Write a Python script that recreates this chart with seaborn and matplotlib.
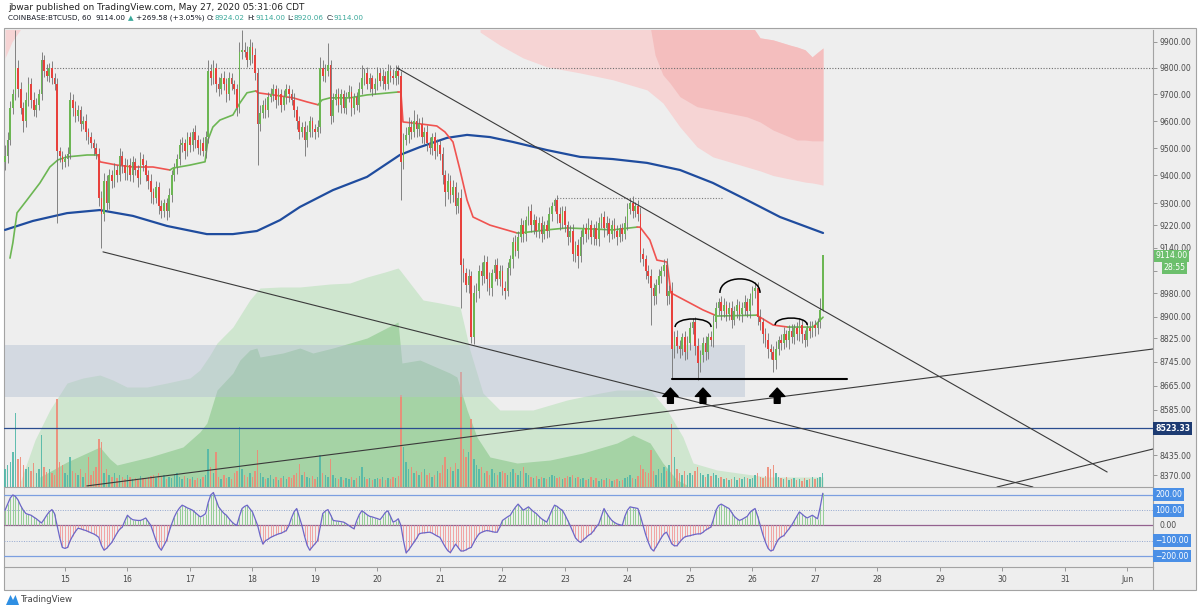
import numpy as np
import matplotlib
matplotlib.use("Agg")
import matplotlib.pyplot as plt
import seaborn as sns
from matplotlib.patches import Rectangle, Polygon, PathPatch
from matplotlib.path import Path
from matplotlib.lines import Line2D
from matplotlib.ticker import NullLocator

# ---------------------------------------------------------------- data
# hourly BTCUSD candles, first candle = May 14 01:00 (t = hours since May 14 00:00)
FIRST_OPEN = 9450
CLOSE = (
    [9470, 9530, 9650, 9700, 9800, 9720, 9650, 9600, 9680, 9740, 9680, 9640, 9660, 9700, 9830, 9790, 9770, 9800, 9760, 9740, 9490, 9470, 9450]
    + [9460, 9480, 9680, 9650, 9620, 9640, 9590, 9600, 9560, 9540, 9520, 9500, 9480, 9320, 9260, 9380, 9300, 9400, 9380, 9420, 9400, 9470, 9440, 9410]
    + [9440, 9400, 9450, 9420, 9390, 9460, 9440, 9400, 9380, 9340, 9320, 9360, 9290, 9270, 9300, 9270, 9330, 9400, 9430, 9460, 9510, 9520, 9490, 9540]
    + [9510, 9560, 9530, 9500, 9520, 9490, 9540, 9790, 9760, 9800, 9740, 9720, 9760, 9740, 9700, 9760, 9740, 9720, 9650, 9860, 9870, 9860, 9830, 9880]
    + [9850, 9780, 9590, 9630, 9660, 9640, 9690, 9700, 9720, 9680, 9700, 9660, 9690, 9720, 9700, 9680, 9640, 9600, 9560, 9580, 9530, 9560, 9600, 9570]
    + [9560, 9580, 9800, 9770, 9790, 9810, 9620, 9680, 9700, 9660, 9700, 9650, 9690, 9710, 9650, 9690, 9660, 9720, 9760, 9780, 9740, 9760, 9720, 9740]
    + [9780, 9750, 9770, 9740, 9790, 9770, 9760, 9790, 9770, 9450, 9530, 9550, 9580, 9560, 9600, 9570, 9590, 9540, 9560, 9520, 9500, 9540, 9490, 9510]
    + [9480, 9400, 9340, 9380, 9330, 9360, 9290, 9320, 9080, 9050, 9010, 9040, 8830, 8980, 8990, 9060, 9040, 9090, 9030, 9000, 9050, 9080, 9030, 9060]
    + [9000, 8990, 9070, 9100, 9160, 9130, 9180, 9220, 9190, 9240, 9270, 9220, 9240, 9200, 9230, 9190, 9220, 9200, 9260, 9290, 9310, 9260, 9230, 9270]
    + [9220, 9180, 9200, 9120, 9150, 9110, 9180, 9210, 9190, 9220, 9180, 9210, 9170, 9230, 9250, 9210, 9230, 9190, 9220, 9200, 9180, 9210, 9190, 9230]
    + [9280, 9300, 9270, 9290, 9260, 9120, 9100, 9060, 9040, 9000, 8970, 9010, 9040, 9060, 9080, 8970, 8990, 8790, 8830, 8800, 8790, 8830, 8780, 8810]
    + [8860, 8880, 8800, 8740, 8770, 8810, 8780, 8830, 8820, 8880, 8930, 8950, 8920, 8940, 8910, 8930, 8890, 8920, 8940, 8910, 8930, 8950, 8920, 8960]
    + [8990, 9000, 8900, 8880, 8840, 8820, 8790, 8780, 8750, 8790, 8820, 8810, 8840, 8820, 8850, 8830, 8860, 8840, 8870, 8840, 8820, 8860, 8850, 8870]
    + [8860, 8880, 8924, 9114]
)
WICK_UP = (
    [40, 30, 25, 20, 145, 30, 25, 20, 30, 25, 20, 30, 25, 20, 30, 20, 25, 20, 25, 20, 20, 15, 20]
    + [20, 25, 30, 20, 25, 20, 15, 20, 25, 15, 20, 15, 20, 20, 25, 30, 20, 25, 20, 25, 20, 30, 20, 25]
    + [20, 25, 20, 15, 20, 25, 20, 15, 20, 25, 15, 20, 15, 20, 15, 20, 25, 20, 15, 20, 25, 20, 15, 20]
    + [20, 15, 25, 20, 15, 20, 25, 40, 25, 30, 20, 25, 20, 30, 20, 25, 20, 15, 20, 40, 75, 30, 25, 30]
    + [20, 25, 20, 30, 20, 25, 20, 25, 20, 15, 25, 20, 25, 20, 15, 20, 25, 15, 20, 15, 20, 25, 20, 15]
    + [20, 25, 40, 30, 25, 85, 20, 25, 20, 25, 20, 15, 20, 25, 20, 15, 20, 25, 50, 20, 25, 20, 15, 20]
    + [25, 20, 25, 20, 25, 20, 25, 20, 20, 20, 25, 30, 35, 25, 40, 25, 20, 25, 20, 25, 20, 15, 20, 25]
    + [20, 25, 20, 30, 20, 25, 15, 20, 30, 25, 20, 25, 20, 30, 25, 20, 30, 25, 20, 25, 15, 20, 25, 20]
    + [20, 25, 20, 15, 20, 25, 20, 25, 20, 15, 20, 25, 20, 15, 20, 25, 15, 20, 25, 15, 10, 20, 25, 20]
    + [20, 15, 20, 25, 15, 20, 25, 15, 20, 25, 20, 15, 25, 20, 15, 20, 25, 15, 20, 25, 20, 15, 20, 25]
    + [20, 20, 25, 15, 20, 25, 20, 15, 20, 25, 15, 20, 25, 15, 20, 25, 20, 30, 20, 25, 20, 15, 20, 25]
    + [20, 15, 20, 25, 15, 20, 25, 15, 20, 25, 20, 15, 20, 25, 15, 20, 25, 15, 20, 15, 20, 25, 15, 20]
    + [15, 20, 20, 25, 15, 20, 25, 15, 20, 25, 15, 20, 25, 15, 20, 25, 15, 20, 25, 20, 15, 20, 25, 15]
    + [20, 15, 40, 0]
)
WICK_DN = (
    [30, 25, 20, 25, 20, 30, 25, 40, 20, 25, 30, 20, 25, 20, 20, 25, 20, 25, 20, 25, 260, 20, 25]
    + [20, 25, 20, 30, 25, 20, 25, 20, 30, 25, 20, 25, 20, 30, 120, 25, 30, 20, 25, 20, 25, 20, 30, 25]
    + [25, 20, 25, 20, 30, 20, 25, 20, 30, 40, 25, 20, 30, 25, 20, 30, 20, 25, 20, 25, 20, 25, 30, 20]
    + [25, 20, 30, 20, 25, 20, 25, 20, 25, 20, 30, 25, 20, 25, 30, 20, 25, 20, 30, 20, 25, 20, 25, 20]
    + [30, 25, 150, 25, 20, 30, 25, 20, 25, 30, 20, 25, 20, 25, 30, 20, 25, 30, 25, 20, 60, 25, 20, 30]
    + [25, 20, 25, 20, 25, 20, 30, 25, 20, 25, 30, 20, 25, 20, 30, 25, 20, 25, 20, 25, 20, 30, 25, 20]
    + [25, 20, 30, 25, 20, 25, 20, 25, 30, 140, 25, 20, 30, 25, 20, 30, 25, 20, 25, 30, 20, 25, 30, 20]
    + [25, 30, 50, 25, 30, 25, 30, 25, 150, 30, 25, 30, 20, 25, 30, 25, 30, 25, 40, 25, 30, 25, 20, 25]
    + [25, 30, 20, 25, 30, 20, 25, 20, 30, 25, 20, 25, 30, 20, 25, 30, 20, 25, 20, 25, 20, 30, 25, 20]
    + [25, 30, 20, 25, 30, 40, 20, 25, 30, 20, 25, 30, 20, 25, 20, 30, 25, 30, 20, 25, 30, 20, 25, 20]
    + [25, 20, 25, 20, 25, 30, 25, 30, 25, 130, 30, 25, 30, 25, 20, 30, 25, 100, 30, 25, 30, 20, 30, 25]
    + [25, 20, 30, 55, 30, 25, 30, 25, 20, 25, 20, 25, 30, 20, 25, 20, 30, 20, 25, 20, 30, 25, 20, 25]
    + [20, 25, 30, 25, 30, 25, 30, 25, 40, 30, 20, 25, 20, 25, 30, 20, 25, 20, 25, 30, 25, 20, 25, 20]
    + [25, 20, 20, 4]
)
VOLUME = (
    [18, 22, 25, 35, 74, 28, 30, 22, 18, 20, 16, 24, 14, 18, 52, 20, 15, 18, 14, 12, 88, 25, 22]
    + [14, 12, 30, 16, 14, 12, 18, 10, 14, 30, 12, 16, 20, 48, 45, 14, 18, 12, 10, 14, 9, 12, 10, 8]
    + [12, 10, 8, 9, 7, 11, 9, 8, 10, 11, 12, 9, 14, 10, 12, 8, 10, 9, 12, 14, 10, 8, 11, 9]
    + [8, 10, 7, 9, 8, 10, 12, 38, 20, 14, 35, 10, 8, 12, 9, 10, 8, 14, 16, 60, 18, 12, 10, 14]
    + [10, 16, 37, 14, 10, 8, 9, 12, 8, 10, 7, 9, 11, 8, 10, 9, 12, 14, 23, 12, 15, 10, 9, 11]
    + [8, 10, 32, 14, 12, 10, 28, 12, 9, 8, 10, 7, 9, 8, 10, 7, 9, 11, 20, 10, 8, 9, 7, 8]
    + [9, 8, 10, 7, 9, 8, 10, 9, 11, 92, 40, 25, 18, 20, 14, 16, 12, 15, 18, 12, 14, 10, 12, 16]
    + [14, 22, 30, 18, 20, 16, 24, 18, 115, 38, 30, 35, 68, 28, 22, 18, 20, 14, 16, 12, 18, 14, 12, 15]
    + [16, 14, 12, 15, 18, 14, 12, 16, 20, 14, 12, 10, 9, 11, 8, 10, 9, 8, 10, 12, 11, 9, 10, 8]
    + [9, 11, 10, 12, 9, 10, 8, 9, 7, 8, 10, 7, 9, 6, 8, 7, 9, 8, 6, 7, 8, 6, 7, 9]
    + [10, 12, 9, 8, 11, 22, 18, 15, 14, 37, 16, 12, 18, 14, 20, 16, 22, 63, 30, 18, 14, 12, 16, 12]
    + [14, 12, 16, 20, 14, 12, 10, 13, 11, 14, 12, 9, 10, 8, 9, 7, 8, 10, 7, 9, 8, 10, 9, 8]
    + [9, 12, 14, 10, 9, 11, 20, 18, 22, 14, 10, 9, 8, 10, 7, 8, 9, 7, 8, 6, 9, 7, 8, 10]
    + [8, 9, 10, 14]
)
OSC = (
    [100, 140, 180, 200, 190, 167, 130, 100, 78, 72, 67, 55, 44, 30, 16, 40, 67, 90, 104, 78, 0, -80, -144]
    + [-150, -144, -100, -67, -40, -18, -22, -28, -33, -40, -48, -55, -65, -78, -130, -162, -150, -130, -111, -80, -50, -25, -11, 30]
    + [67, 50, 38, 35, 33, 33, 40, 49, 25, 0, -50, -100, -140, -162, -130, -100, -40, 10, 56, 90, 115, 133, 125, 115]
    + [108, 100, 85, 70, 56, 65, 78, 150, 200, 216, 170, 122, 100, 80, 67, 45, 25, 10, 0, 60, 111, 125, 133, 110]
    + [89, 45, 0, -70, -122, -100, -90, -78, -70, -62, -55, -51, -42, -33, 0, 50, 90, 111, 55, 0, -70, -130, -162, -140]
    + [-120, -100, -10, 78, 95, 104, 70, 33, 30, 28, 25, 22, 12, 0, -12, -22, 30, 70, 96, 85, 70, 60, 56, 50]
    + [45, 38, 60, 85, 96, 60, 22, 30, 44, 0, -100, -180, -160, -135, -111, -85, -55, -50, -48, -46, -44, -50, -60, -70]
    + [-78, -110, -140, -165, -178, -150, -122, -145, -167, -167, -160, -150, -144, -110, -80, -55, -45, -38, -33, -36, -40, -44, -44, -10]
    + [33, 45, 57, 67, 95, 120, 140, 120, 100, 111, 122, 105, 90, 78, 60, 44, 33, 22, 60, 100, 133, 125, 110, 100]
    + [70, 35, 0, -40, -80, -100, -111, -95, -80, -65, -55, -35, -10, 11, 60, 111, 80, 55, 33, 20, 10, 5, 0, 60]
    + [100, 122, 118, 115, 111, 60, 0, -60, -110, -150, -167, -140, -110, -80, -55, -44, -80, -120, -133, -133, -110, -90, -75, -70]
    + [-67, -62, -58, -55, -55, -45, -30, -20, -11, 40, 100, 130, 140, 130, 120, 111, 85, 60, 45, 33, 40, 50, 60, 85]
    + [100, 111, 60, 0, -60, -110, -150, -167, -160, -120, -90, -75, -67, -45, -22, 0, 30, 60, 89, 75, 60, 49, 58, 67]
    + [55, 44, 120, 211]
)

# 200-period moving average (t, price)
MA_T = [1.0, 11.7, 24.8, 37.4, 50.1, 63.2, 78.5, 88.5, 97.7, 106.6, 114.2, 126.9, 140.0, 152.6,
        160.3, 170.7, 178.4, 187.2, 196.0, 209.1, 221.8, 234.4, 247.5, 260.2, 272.8, 285.9, 298.6, 315.1]
MA_P = [9204, 9236, 9264, 9275, 9254, 9218, 9189, 9189, 9200, 9239, 9286, 9347, 9395, 9475,
        9504, 9538, 9549, 9541, 9523, 9493, 9468, 9460, 9446, 9420, 9373, 9311, 9250, 9193]

# VWAP-style line; VW_SIDE = colour of the segment arriving at each point
VW_T = [2.9, 4.0, 5.6, 9.4, 14.4, 18.2, 21.3, 24.8, 32.5, 36.7,
        37.4, 44.0, 50.1, 57.8, 64.3,
        65.5, 72.0, 77.8, 78.9, 80.8, 83.5, 88.5, 91.2, 93.9, 97.3,
        98.1, 103.9, 111.6, 116.9, 121.2,
        122.7, 125.8, 133.4, 140.0, 151.9,
        153.0, 153.8, 160.3, 166.8, 169.9, 173.0, 175.7, 178.4, 180.7, 187.2, 197.6,
        198.7, 209.1, 216.8, 234.4, 243.7,
        244.8, 248.6, 251.3, 255.2, 256.7, 264.0, 269.0, 273.6,
        274.4, 289.7,
        290.9, 295.9, 301.6,
        302.4, 311.3, 315.1]
VW_P = [9104, 9158, 9265, 9311, 9373, 9431, 9457, 9468, 9475, 9475,
        9450, 9438, 9431, 9431, 9420,
        9427, 9438, 9450, 9530, 9578, 9604, 9623, 9668, 9706, 9713,
        9706, 9698, 9687, 9672, 9661,
        9679, 9687, 9687, 9698, 9709,
        9709, 9597, 9590, 9582, 9560, 9523, 9420, 9311, 9250, 9221, 9193,
        9193, 9204, 9211, 9204, 9214,
        9214, 9168, 9097, 9090, 8982, 8947, 8923, 8905,
        8902, 8905,
        8898, 8871, 8864,
        8864, 8864, 8898]
VW_SIDE = ("gggggggggg" "rrrrr" "gggggggggg" "rrrrr" "ggggg" "rrrrrrrrrrr"
           "ggggg" "rrrrrrrr" "gg" "rrr" "ggg")

# red (resistance) cloud, price units
PINK_T = [183.4, 191.0, 199.9, 209.1, 221.8, 234.4, 247.5, 253.6, 260.2, 266.7, 272.8, 285.9,
          290.9, 295.9, 302.4, 308.2, 310.9, 313.2, 315.1]
PINK_LO = [9937, 9887, 9838, 9804, 9781, 9755, 9717, 9668, 9578, 9505, 9468, 9431,
           9417, 9400, 9387, 9376, 9373, 9369, 9365]
PINK_HI = [9990, 9990, 9990, 9990, 9990, 9990, 9990, 9990, 9990, 9990, 9990, 9990,
           9915, 9907, 9887, 9869, 9842, 9861, 9876]
RED_T = [248.7, 250.6, 253.6, 256.3, 260.2, 266.7, 272.8, 285.9, 290.9, 295.9, 302.4, 305.1,
         308.2, 310.9, 313.2, 315.1]
RED_LO = [9960, 9849, 9774, 9743, 9691, 9654, 9642, 9616, 9597, 9567, 9541, 9530,
          9530, 9527, 9527, 9527]
RED_HI = [9990, 9990, 9990, 9990, 9990, 9990, 9990, 9990, 9915, 9907, 9887, 9880,
          9869, 9842, 9861, 9876]
PINK0_T = [1.0, 3.7, 6.8]
PINK0_LO = [9838, 9900, 9945]

# green (volume) cloud, volume-pane units
LG_T = [6.7, 12.5, 18.2, 24.8, 30.9, 37.4, 42.4, 47.8, 55.5, 63.2, 72.0, 75.8, 79.7, 82.4, 88.5,
        95.0, 98.9, 106.6, 114.2, 125.8, 133.4, 140.0, 146.9, 151.9, 152.6, 161.5, 168.0, 175.7,
        179.5, 184.5, 191.0, 203.7, 216.8, 229.5, 236.0, 248.7, 255.2, 261.3, 265.2, 274.4, 293.6, 315.1]
LG_H = [4, 47, 77, 104, 109, 112, 107, 100, 100, 104, 109, 117, 132, 144, 160,
        187, 199, 200, 200, 203, 204, 210, 215, 219, 217, 187, 184, 180,
        137, 94, 77, 77, 87, 94, 97, 97, 77, 50, 24, 17, 10, 10]
DG_T = [14.4, 24.8, 37.4, 41.3, 44.0, 56.6, 69.3, 75.8, 78.5, 82.4, 88.5, 91.2, 95.0, 97.7, 98.9,
        107.7, 114.2, 119.2, 126.9, 140.0, 151.9, 153.4, 160.3, 171.8, 174.5, 178.4, 182.2, 187.2,
        197.6, 210.3, 222.9, 236.0, 242.1, 248.7, 253.6, 259.0, 262.9]
DG_H = [10, 25, 40, 28, 22, 30, 40, 55, 64, 97, 114, 127, 137, 139, 130,
        134, 139, 134, 139, 149, 165, 124, 127, 114, 110, 77, 50, 30,
        24, 27, 34, 44, 52, 44, 24, 7, 2]

# drawings
SUPPORT_ZONE_T = (1.0, 285.1)
SUPPORT_ZONE_P = (8627, 8802)
LEVEL = 8523.33
DOTTED_9800_T = (15.6, 441.8)
DOTTED_TOP_T = (212.9, 276.7)
DOTTED_TOP_P = 9318
TREND_T0 = [151.5, 38.6, 32.4, 381.9]
TREND_P0 = [9800, 9126, 8335, 8331.5]
TREND_T1 = [424.2, 395.7, 441.8, 441.8]
TREND_P1 = [8380, 8331.5, 8789, 8455]
BASE_LINE_T = (257.1, 324.3)
BASE_LINE_P = 8687
ARC_T0 = [258.3, 275.5, 296.7]
ARC_T1 = [272.1, 290.9, 309.0]
ARC_BASE = [8864, 8982, 8871]
ARC_PEAK = [8892, 9031, 8895]
ARROW_T = [256.5, 269.0, 297.5]
ARROW_TIP = 8657
ARROW_BASE = 8606

# price-axis ticks; the 9060 and 8505 labels sit under the last-price / level badges
PRICE_TICKS = [9900, 9800, 9700, 9600, 9500, 9400, 9300, 9220, 9140, 9060, 8980, 8900,
               8825, 8745, 8665, 8585, 8505, 8435, 8370]
HIDDEN_TICK_LABELS = [9060, 8505]
DAY_TICKS_T = [24, 48, 72, 96, 120, 144, 168, 192, 216, 240, 264, 288, 312, 336, 360, 384, 408, 432]
DAY_LABELS = ["15", "16", "17", "18", "19", "20", "21", "22", "23", "24", "25", "26", "27",
              "28", "29", "30", "31", "Jun"]
OSC_LEVELS = [200, 100, 0, -100, -200]

# ---------------------------------------------------------------- style
sns.set_theme(style="white")
plt.rcParams['font.family'] = ['DejaVu Sans']

W, H = 1200, 611
fig = plt.figure(figsize=(12, 6.11), dpi=100, facecolor='white')


def fx(px):
    return px / W


def fy(py):
    return 1 - py / H


BG = '#eeeeee'
EDGE = '#a3a3a3'
GREEN = '#6cb653'
RED = '#e8413c'
TEAL = '#3aa89a'
TXT = '#4a4a4a'

fig.add_artist(Rectangle((fx(4), fy(590)), fx(1196) - fx(4), fy(28) - fy(590),
                         transform=fig.transFigure, facecolor=BG, edgecolor=EDGE,
                         lw=0.8, zorder=-5))
fig.add_artist(Line2D([fx(1153)] * 2, [fy(567), fy(590)], transform=fig.transFigure,
                      color=EDGE, lw=0.8))

L, R, TOP, MID, BOT = 4, 1153, 30, 487, 567
rect_main = [fx(L), fy(MID), fx(R) - fx(L), fy(TOP) - fy(MID)]
ax_v = fig.add_axes(rect_main)
ax = fig.add_axes(rect_main)
ax_o = fig.add_axes([fx(L), fy(BOT), fx(R) - fx(L), fy(MID) - fy(BOT)])
XLIM = (0.6, 441.8)
for a in (ax_v, ax, ax_o):
    a.set_xlim(*XLIM)
    a.patch.set_alpha(0)
    for s in a.spines.values():
        s.set_visible(False)

n = min(len(CLOSE), len(WICK_UP), len(WICK_DN), len(VOLUME), len(OSC))
T = np.arange(1, n + 1, dtype=float)
c = np.array(CLOSE[:n], float)
o = np.concatenate([[FIRST_OPEN], c[:-1]])
hi = np.maximum(o, c) + np.array(WICK_UP[:n])
lo = np.minimum(o, c) - np.array(WICK_DN[:n])
up = c >= o

# ---------------- volume pane (behind)
ax_v.set_ylim(0, MID - TOP)
ax_v.fill_between(LG_T, 0, LG_H, color='#cfe6cf', lw=0, zorder=1)
ax_v.fill_between(DG_T, 0, DG_H, color='#a5d3a5', lw=0, zorder=2)
ax_v.bar(T, VOLUME[:n], width=0.55, color=np.where(up, '#52b8a8', '#ee8a76'),
         lw=0, alpha=0.9, zorder=3)
ax_v.set_xticks([])
ax_v.set_yticks([])

# ---------------- price pane
ax.set_yscale('log')
ax.set_ylim(8331.5, 9945)
ax.fill_between(PINK_T, PINK_LO, PINK_HI, color='#f6d4d4', lw=0, zorder=1)
ax.fill_between(RED_T, RED_LO, RED_HI, color='#f4bebe', lw=0, zorder=1.1)
ax.fill_between(PINK0_T, PINK0_LO, 9990, color='#f6d4d4', lw=0, zorder=1)
ax.add_patch(Rectangle((SUPPORT_ZONE_T[0], SUPPORT_ZONE_P[0]),
                       SUPPORT_ZONE_T[1] - SUPPORT_ZONE_T[0],
                       SUPPORT_ZONE_P[1] - SUPPORT_ZONE_P[0],
                       facecolor='#b4c0d2', alpha=0.45, lw=0, zorder=1.5))
ax.axhline(LEVEL, color='#2a4d8f', lw=0.9, zorder=2)
ax.plot(DOTTED_9800_T, [9800, 9800], color='#6e6e6e', lw=0.8, ls=(0, (1, 1.5)), zorder=2)
ax.plot(DOTTED_TOP_T, [DOTTED_TOP_P] * 2, color='#7a7a7a', lw=0.8, ls=(0, (1, 1.5)), zorder=2)

sns.lineplot(x=MA_T, y=MA_P, ax=ax, color='#1f4c9e', lw=1.6, estimator=None, sort=False, zorder=3)
nv = len(VW_T)
k = 1
while k < nv:
    side = VW_SIDE[k]
    j = k
    while j + 1 < nv and VW_SIDE[j + 1] == side:
        j += 1
    sns.lineplot(x=VW_T[k - 1:j + 1], y=VW_P[k - 1:j + 1], ax=ax,
                 color=GREEN if side == 'g' else '#f05350', lw=1.2,
                 estimator=None, sort=False, zorder=3.2)
    k = j + 1

ax.vlines(T, lo, hi, color='#707070', lw=0.6, zorder=4)
ax.bar(T, np.abs(c - o), bottom=np.minimum(o, c), width=0.64,
       color=np.where(up, GREEN, RED), lw=0, zorder=5)

for t0, p0, t1, p1 in zip(TREND_T0, TREND_P0, TREND_T1, TREND_P1):
    ax.plot([t0, t1], [p0, p1], color='#3a3a3a', lw=0.8, zorder=6)
ax.plot(BASE_LINE_T, [BASE_LINE_P] * 2, color='black', lw=1.5, zorder=6)
for t0, t1, pb, pp in zip(ARC_T0, ARC_T1, ARC_BASE, ARC_PEAK):
    pc = np.exp((4 * np.log(pp) - np.log(pb)) / 3)
    path = Path([(t0, pb), (t0, pc), (t1, pc), (t1, pb)],
                [Path.MOVETO, Path.CURVE4, Path.CURVE4, Path.CURVE4])
    ax.add_patch(PathPatch(path, fill=False, ec='black', lw=1.1, zorder=7))
for t in ARROW_T:
    ax.annotate('', xy=(t, ARROW_TIP), xytext=(t, ARROW_BASE),
                arrowprops=dict(arrowstyle='simple,head_length=0.6,head_width=1.1,tail_width=0.42',
                                fc='black', ec='black', shrinkA=0, shrinkB=0, mutation_scale=10),
                zorder=8)

ax.yaxis.tick_right()
ax.set_yticks(PRICE_TICKS)
ax.set_yticklabels(['' if v in HIDDEN_TICK_LABELS else f'{v:.2f}' for v in PRICE_TICKS])
ax.yaxis.set_minor_locator(NullLocator())
ax.tick_params(axis='y', which='major', direction='out', length=3, width=0.6,
               color='#8a8a8a', labelsize=5.6, labelcolor=TXT, pad=2, right=True, left=False)
ax.tick_params(axis='x', bottom=False, labelbottom=False)
ax.spines['right'].set_visible(True)
ax.spines['bottom'].set_visible(True)
for s in ('right', 'bottom'):
    ax.spines[s].set_color(EDGE)
    ax.spines[s].set_linewidth(0.8)

ytr = ax.get_yaxis_transform()
ax.text(1.002, 9112, '9114.00', transform=ytr, ha='left', va='center', fontsize=5.6,
        color='white', clip_on=False, zorder=20,
        bbox=dict(boxstyle='square,pad=0.2', fc='#6cbf6c', ec='none'))
ax.text(1.009, 9071, '28:55', transform=ytr, ha='left', va='center', fontsize=5.6,
        color='white', clip_on=False, zorder=20,
        bbox=dict(boxstyle='square,pad=0.2', fc='#6cbf6c', ec='none'))
ax.text(1.002, LEVEL, f'{LEVEL:.2f}', transform=ytr, ha='left', va='center', fontsize=5.6,
        color='white', fontweight='bold', clip_on=False, zorder=20,
        bbox=dict(boxstyle='square,pad=0.28', fc='#1d3b72', ec='none'))

# ---------------- oscillator pane
ax_o.set_ylim(-272, 252)
osc = np.array(OSC[:n], float)
ax_o.vlines(T, 0, osc, colors=np.where(osc >= 0, '#95cd96', '#f2a3a3'), lw=0.7, zorder=1)
for lvl in OSC_LEVELS:
    if abs(lvl) == 200:
        ax_o.axhline(lvl, color='#7c9fe0', lw=0.9, zorder=0.5)
    elif abs(lvl) == 100:
        ax_o.axhline(lvl, color='#93a7cf', lw=0.7, ls=(0, (1, 1.5)), zorder=0.5)
    else:
        ax_o.axhline(lvl, color='#94618f', lw=0.9, zorder=0.5)
sns.lineplot(x=T, y=osc, ax=ax_o, color='#6c66c8', lw=0.9, estimator=None, sort=False, zorder=2)
ax_o.set_yticks([])
ax_o.set_ylabel('')
ax_o.set_xticks(DAY_TICKS_T)
ax_o.set_xticklabels(DAY_LABELS)
ax_o.tick_params(axis='x', direction='out', length=3, width=0.6, color='#8a8a8a',
                 labelsize=5.6, labelcolor=TXT, pad=3, bottom=True)
for s in ('right', 'bottom'):
    ax_o.spines[s].set_visible(True)
    ax_o.spines[s].set_color(EDGE)
    ax_o.spines[s].set_linewidth(0.8)
otr = ax_o.get_yaxis_transform()
for lvl in OSC_LEVELS:
    lab = f'{lvl:.2f}'.replace('-', '\u2212')
    if lvl == 0:
        ax_o.text(1.006, lvl, lab, transform=otr, ha='left', va='center', fontsize=5.6,
                  color=TXT, clip_on=False)
    else:
        ax_o.text(1.002, lvl, lab, transform=otr, ha='left', va='center', fontsize=5.6,
                  color='white', clip_on=False, zorder=20,
                  bbox=dict(boxstyle='square,pad=0.25', fc='#4a8fe6', ec='none'))
ax.set_xlabel('')
ax.set_ylabel('')
ax_o.set_xlabel('')

# ---------------- header / footer
renderer = fig.canvas.get_renderer()


def fitted_text(x_px, y_px, s, width_px, **kw):
    t = fig.text(fx(x_px), fy(y_px), s, fontsize=10, va='center', ha='left', **kw)
    w = t.get_window_extent(renderer=renderer).width
    t.set_fontsize(10 * width_px / w)
    return t


fitted_text(8, 7, 'jbwar published on TradingView.com, May 27, 2020 05:31:06 CDT', 294,
            color='#222222')

runs = [('COINBASE:BTCUSD, 60', '#131722', 2), ('9114.00', '#131722', 1),
        ('\u25b2', TEAL, 1), ('+269.58 (+3.05%)', '#131722', 1),
        ('O:', '#131722', 0), ('8924.02', TEAL, 1), ('H:', '#131722', 0),
        ('9114.00', TEAL, 1), ('L:', '#131722', 0), ('8920.06', TEAL, 1),
        ('C:', '#131722', 0), ('9114.00', TEAL, 0)]
fs = 6.2
for _ in range(2):
    space = fs * 100 / 72 * 0.318
    total = 0
    for s, col, gap in runs:
        tt = fig.text(0, 0, s, fontsize=fs)
        total += tt.get_window_extent(renderer=renderer).width + gap * space
        tt.remove()
    fs = fs * 355 / total
space = fs * 100 / 72 * 0.318
x = 8
for s, col, gap in runs:
    tt = fig.text(fx(x), fy(18), s, fontsize=fs, color=col, va='center', ha='left')
    x += tt.get_window_extent(renderer=renderer).width + gap * space

fig.add_artist(Polygon([[fx(6), fy(605)], [fx(10.5), fy(595)], [fx(13), fy(600)],
                        [fx(15.5), fy(595)], [fx(19), fy(605)]], closed=True,
                       transform=fig.transFigure, fc='#2f8fe3', ec='none'))
fig.text(fx(21), fy(600), 'TradingView', fontsize=6.2, color='#444444', va='center', ha='left')

fig.savefig('out.png', dpi=100, facecolor='white')
